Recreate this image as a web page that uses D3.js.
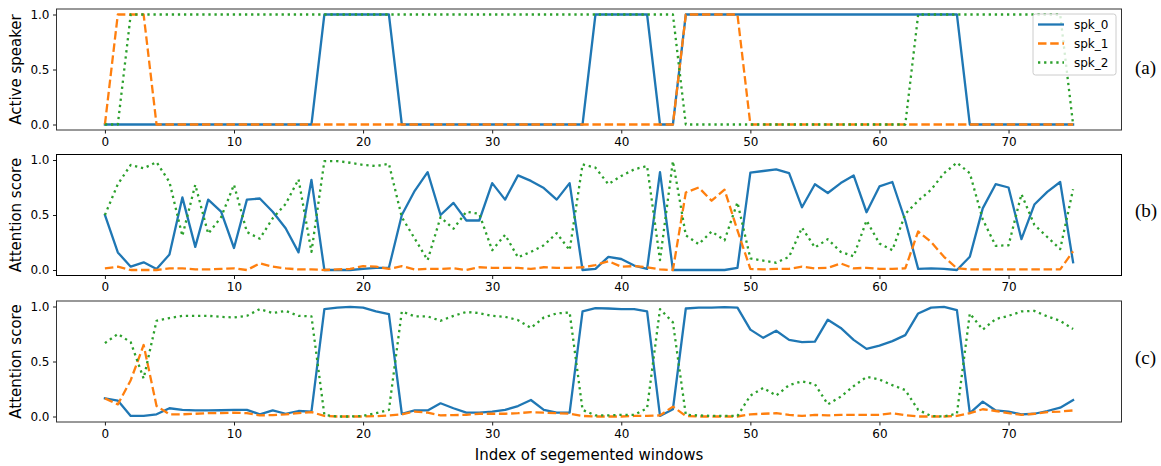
<!DOCTYPE html>
<html>
<head>
<meta charset="utf-8">
<script src="https://cdn.jsdelivr.net/npm/d3@7"></script>
<style>
  html, body { margin: 0; padding: 0; background: #fff; }
  svg { display: block; }
  text { font-family: "DejaVu Sans", sans-serif; fill: #000; }
</style>
</head>
<body>
<svg id="chart" width="1161" height="466"></svg>
<script>
// ---------------- data ----------------
const seriesNames = ["spk_0", "spk_1", "spk_2"];
const xTicks = [0, 10, 20, 30, 40, 50, 60, 70];
const yTicks = [0.0, 0.5, 1.0];
const panelLabels = ["(a)", "(b)", "(c)"];
const yLabels = ["Active speaker", "Attention score", "Attention score"];
const xTitle = "Index of segemented windows";

// (a) active speaker
const a_spk0 = [0,0,0,0,0,0,0,0,0,0,0,0,0,0,0,0,0,1,1,1,1,1,1,0,0,0,0,0,0,0,0,0,0,0,0,0,0,0,1,1,1,1,1,0,0,1,1,1,1,1,1,1,1,1,1,1,1,1,1,1,1,1,1,1,1,1,1,0,0,0,0,0,0,0,0,0];
const a_spk1 = [0,1,1,1,0,0,0,0,0,0,0,0,0,0,0,0,0,0,0,0,0,0,0,0,0,0,0,0,0,0,0,0,0,0,0,0,0,0,0,0,0,0,0,0,0,1,1,1,1,1,0,0,0,0,0,0,0,0,0,0,0,0,0,0,0,0,0,0,0,0,0,0,0,0,0,0];
const a_spk2 = [0,0,1,1,1,1,1,1,1,1,1,1,1,1,1,1,1,1,1,1,1,1,1,1,1,1,1,1,1,1,1,1,1,1,1,1,1,1,1,1,1,1,1,1,1,0,0,0,0,0,0,0,0,0,0,0,0,0,0,0,0,0,0,1,1,1,1,1,1,1,1,1,1,1,1,0];

// (b) attention score
const b_spk0 = [.50,.16,.03,.07,.01,.14,.66,.21,.64,.53,.20,.64,.65,.53,.38,.16,.82,.00,.00,.00,.01,.02,.02,.50,.72,.89,.50,.61,.45,.45,.79,.64,.86,.81,.745,.64,.79,.00,.01,.12,.10,.04,.01,.89,.00,.00,.00,.00,.00,.02,.885,.90,.915,.88,.57,.78,.70,.79,.86,.525,.76,.80,.45,.01,.015,.01,.00,.12,.56,.78,.75,.28,.595,.71,.80,.07];
const b_spk1 = [.015,.03,.0,.0,.0,.015,.015,.005,.005,.01,.015,.0,.06,.03,.015,.005,.005,.0,.005,.01,.035,.03,.01,.035,.005,.01,.01,.015,.0,.025,.02,.02,.02,.01,.025,.02,.02,.025,.045,.08,.03,.035,.025,.005,.0,.705,.75,.63,.73,.36,.01,.005,.01,.01,.03,.015,.02,.06,.015,.02,.01,.01,.015,.35,.255,.12,.015,.005,.005,.005,.005,.005,.005,.005,.005,.17];
const b_spk2 = [.50,.78,.955,.925,.98,.80,.31,.775,.33,.48,.775,.345,.285,.47,.60,.825,.165,.99,.99,.975,.955,.945,.965,.48,.285,.09,.48,.375,.53,.51,.18,.32,.115,.165,.225,.335,.18,.96,.93,.78,.855,.915,.945,.09,.99,.315,.235,.35,.27,.615,.105,.085,.066,.12,.385,.205,.28,.165,.125,.45,.24,.18,.51,.63,.73,.88,.975,.88,.46,.22,.225,.69,.41,.30,.19,.735];

// (c) attention score
const c_spk0 = [.165,.145,.005,.005,.02,.075,.06,.055,.055,.057,.06,.06,.02,.055,.025,.05,.045,.976,.99,.997,.99,.955,.93,.025,.055,.055,.12,.075,.035,.035,.045,.06,.095,.15,.06,.035,.035,.955,.985,.982,.976,.976,.955,.005,.066,.982,.99,.99,.994,.99,.79,.715,.78,.697,.676,.68,.88,.805,.697,.615,.645,.685,.74,.937,.99,.997,.967,.03,.135,.055,.045,.02,.025,.05,.08,.15];
const c_spk1 = [.165,.11,.33,.65,.096,.02,.02,.025,.03,.03,.035,.03,.01,.013,.02,.03,.04,.005,.0,.0,.0,.003,.01,.02,.045,.035,.01,.013,.015,.025,.025,.025,.03,.04,.035,.03,.025,.005,.0,.0,.0,.005,.005,.01,.09,.005,.0,.0,.0,.0,.02,.025,.03,.015,.005,.015,.01,.015,.015,.015,.015,.03,.012,.0,.0,.0,.005,.03,.066,.05,.03,.015,.025,.04,.045,.055];
const c_spk2 = [.667,.75,.675,.345,.87,.895,.915,.915,.915,.906,.90,.915,.976,.94,.96,.915,.91,.015,.0,.0,.005,.03,.06,.955,.91,.91,.87,.915,.95,.94,.915,.906,.876,.805,.90,.937,.946,.06,.01,.01,.015,.015,.075,.976,.856,.015,.01,.005,.005,.005,.19,.26,.19,.285,.32,.294,.11,.18,.276,.36,.336,.285,.24,.06,.005,.0,.025,.937,.79,.886,.915,.955,.96,.91,.87,.795];

const panelsData = [
  [a_spk0, a_spk1, a_spk2],
  [b_spk0, b_spk1, b_spk2],
  [c_spk0, c_spk1, c_spk2]
];

// ---------------- layout / style ----------------
const colors = ["#1f77b4", "#ff7f0e", "#2ca02c"];
const dashes = [null, "8.5,3.7", "2.3,3.8"];
const lineW = 2.3;
const left = 56.5, right = 1121.5;
const panelBoxes = [
  {top: 9, bottom: 130, spine: "#333", sw: 1},
  {top: 154.5, bottom: 275.5, spine: "#000", sw: 1},
  {top: 301, bottom: 422, spine: "#333", sw: 1}
];
const panelLabelY = [67, 210, 357];

const svg = d3.select("#chart");
const x = d3.scaleLinear().domain([-3.75, 78.75]).range([left, right]);

panelsData.forEach((series, pi) => {
  const box = panelBoxes[pi];
  const y = d3.scaleLinear().domain([-0.05, 1.05]).range([box.bottom, box.top]);
  const g = svg.append("g");

  const line = d3.line().x((d, i) => x(i)).y(d => y(d));
  series.forEach((vals, si) => {
    g.append("path")
      .datum(vals)
      .attr("d", line)
      .attr("fill", "none")
      .attr("stroke", colors[si])
      .attr("stroke-width", lineW)
      .attr("stroke-linejoin", "round")
      .attr("stroke-linecap", si === 0 ? "square" : "butt")
      .attr("stroke-dasharray", dashes[si]);
  });

  // axes
  const xAxis = d3.axisBottom(x).tickValues(xTicks).tickSize(3.5).tickPadding(3.5).tickFormat(d3.format("d"));
  const yAxis = d3.axisLeft(y).tickValues(yTicks).tickSize(3.5).tickPadding(3.5).tickFormat(d3.format(".1f"));
  const gx = g.append("g").attr("transform", `translate(0,${box.bottom})`).call(xAxis);
  const gy = g.append("g").attr("transform", `translate(${left},0)`).call(yAxis);
  [gx, gy].forEach(ax => {
    ax.select(".domain").remove();
    ax.selectAll(".tick line").attr("stroke", "#000").attr("stroke-width", 0.9);
    ax.selectAll(".tick text").style("font-family", "'DejaVu Sans', sans-serif").style("font-size", "12px").attr("fill", "#000");
  });

  // frame
  g.append("rect")
    .attr("x", left).attr("y", box.top)
    .attr("width", right - left).attr("height", box.bottom - box.top)
    .attr("fill", "none").attr("stroke", box.spine).attr("stroke-width", box.sw);

  // y label
  g.append("text")
    .attr("transform", `translate(16,${(box.top + box.bottom) / 2}) rotate(-90)`)
    .attr("text-anchor", "middle")
    .attr("dominant-baseline", "central")
    .style("font-size", "15px")
    .text(yLabels[pi]);

  // panel label
  g.append("text")
    .attr("x", 1135).attr("y", panelLabelY[pi])
    .attr("dominant-baseline", "central")
    .style("font-family", "'Liberation Serif', 'DejaVu Serif', serif")
    .style("font-size", "19px")
    .text(panelLabels[pi]);

  // legend in panel (a)
  if (pi === 0) {
    const lg = g.append("g");
    lg.append("rect")
      .attr("x", 1033).attr("y", 14).attr("width", 83).attr("height", 61).attr("rx", 2.5)
      .attr("fill", "#fff").attr("fill-opacity", 0.8)
      .attr("stroke", "#ccc").attr("stroke-width", 1);
    seriesNames.forEach((name, si) => {
      const ry = 24.5 + si * 19;
      lg.append("line")
        .attr("x1", 1038).attr("x2", 1064).attr("y1", ry).attr("y2", ry)
        .attr("stroke", colors[si]).attr("stroke-width", lineW)
        .attr("stroke-dasharray", dashes[si]);
      lg.append("text")
        .attr("x", 1074).attr("y", ry)
        .attr("dominant-baseline", "central")
        .style("font-size", "12px")
        .text(name);
    });
  }
});

// x title
svg.append("text")
  .attr("x", (left + right) / 2).attr("y", 455)
  .attr("text-anchor", "middle")
  .attr("dominant-baseline", "central")
  .style("font-size", "15px")
  .text(xTitle);
</script>
</body>
</html>
